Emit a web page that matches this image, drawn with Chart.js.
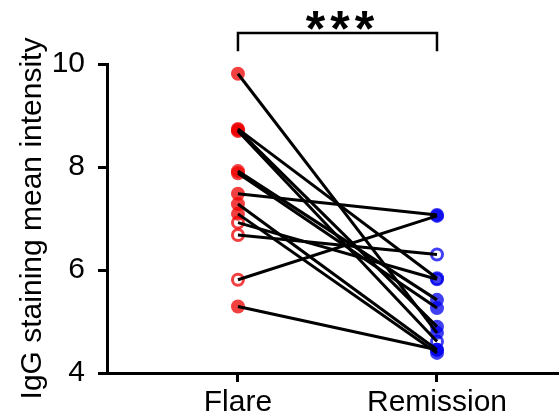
<!DOCTYPE html>
<html>
<head>
<meta charset="utf-8">
<script src="https://cdn.jsdelivr.net/npm/chart.js@4.4.1/dist/chart.umd.min.js"></script>
<style>
  html, body { margin: 0; padding: 0; background: #fff; }
  canvas { display: block; }
</style>
</head>
<body>
<canvas id="chart" width="559" height="420"></canvas>
<script>
// ---------- data ----------
const categories = ['Flare', 'Remission'];
const flare         = [9.81, 8.74, 8.72, 8.70, 7.92, 7.88, 7.48, 7.28, 7.09, 6.92, 6.68, 5.81, 5.29];
const remission     = [4.78, 5.84, 4.90, 4.61, 5.42, 5.26, 7.07, 4.45, 4.39, 5.82, 6.30, 7.05, 4.45];
const flareOpen     = [0, 0, 0, 0, 0, 0, 0, 0, 0, 1, 1, 1, 0];
const remissionOpen = [0, 0, 0, 1, 0, 0, 0, 0, 0, 1, 1, 0, 0];
const yTicks = [4, 6, 8, 10];
const yTitle = 'IgG staining mean intensity';
const significance = '***';

const FONT = '"Liberation Sans", Arial, sans-serif';
const RED = 'rgba(238,0,0,0.75)';
const BLUE = 'rgba(0,0,238,0.75)';

// ---------- datasets ----------
const lineSets = flare.map((f, i) => ({
  data: [{ x: 0, y: f }, { x: 1, y: remission[i] }],
  showLine: true, borderColor: '#000', borderWidth: 3,
  pointRadius: 0, order: 0,
}));

function pointSet(values, flags, xi, open, color) {
  const pts = [];
  values.forEach((v, i) => { if (!!flags[i] === open) pts.push({ x: xi, y: v }); });
  return open
    ? { data: pts, pointRadius: 5.5, pointBackgroundColor: '#fff',
        pointBorderColor: color, pointBorderWidth: 3, order: 1 }
    : { data: pts, pointRadius: 7, pointBackgroundColor: color,
        pointBorderWidth: 0, order: 1 };
}

const pointSets = [
  pointSet(flare, flareOpen, 0, false, RED),
  pointSet(flare, flareOpen, 0, true, RED),
  pointSet(remission, remissionOpen, 1, false, BLUE),
  pointSet(remission, remissionOpen, 1, true, BLUE),
];

// ---------- significance bracket ----------
const bracket = {
  id: 'bracket',
  afterDraw(chart) {
    const { ctx, scales: { x, y } } = chart;
    const x0 = x.getPixelForValue(0), x1 = x.getPixelForValue(1);
    const yTop = y.getPixelForValue(10.6), yLow = y.getPixelForValue(10.25);
    ctx.save();
    ctx.strokeStyle = '#000';
    ctx.lineWidth = 2.5;
    ctx.beginPath();
    ctx.moveTo(x0, yLow); ctx.lineTo(x0, yTop); ctx.lineTo(x1, yTop); ctx.lineTo(x1, yLow);
    ctx.stroke();
    ctx.fillStyle = '#000';
    ctx.font = 'bold 50px ' + FONT;
    ctx.letterSpacing = '5px';
    ctx.textAlign = 'center';
    ctx.textBaseline = 'alphabetic';
    ctx.fillText(significance, (x0 + x1) / 2 + 5, y.getPixelForValue(10.34));
    ctx.restore();
  },
};

new Chart(document.getElementById('chart'), {
  type: 'scatter',
  data: { datasets: [...lineSets, ...pointSets] },
  plugins: [bracket],
  options: {
    responsive: false,
    animation: false,
    layout: { autoPadding: false, padding: { top: 64, left: 0, right: 0, bottom: 0 } },
    plugins: { legend: { display: false }, tooltip: { enabled: false } },
    scales: {
      x: {
        type: 'linear', min: -0.658, max: 1.613,
        afterBuildTicks: (s) => { s.ticks = categories.map((c, i) => ({ value: i })); },
        afterFit: (s) => { s.height = 47; s.paddingLeft = 0; s.paddingRight = 0; },
        ticks: {
          callback: (v) => categories[v], color: '#000', padding: 3,
          font: { family: FONT, size: 30 }, maxRotation: 0, autoSkip: false,
        },
        grid: { drawOnChartArea: false, drawTicks: true, tickLength: 9, tickWidth: 3, tickColor: '#000' },
        border: { display: true, color: '#000', width: 3 },
      },
      y: {
        min: 4, max: 10,
        afterBuildTicks: (s) => { s.ticks = yTicks.map((v) => ({ value: v })); },
        afterFit: (s) => { s.width = 107; },
        ticks: { color: '#000', padding: 13, font: { family: FONT, size: 30 } },
        grid: { drawOnChartArea: false, drawTicks: true, tickLength: 9, tickWidth: 3, tickColor: '#000' },
        border: { display: true, color: '#000', width: 3 },
        title: {
          display: true, text: yTitle, color: '#000',
          font: { family: FONT, size: 30 }, padding: { top: 15, bottom: 0 },
        },
      },
    },
  },
});
</script>
</body>
</html>
